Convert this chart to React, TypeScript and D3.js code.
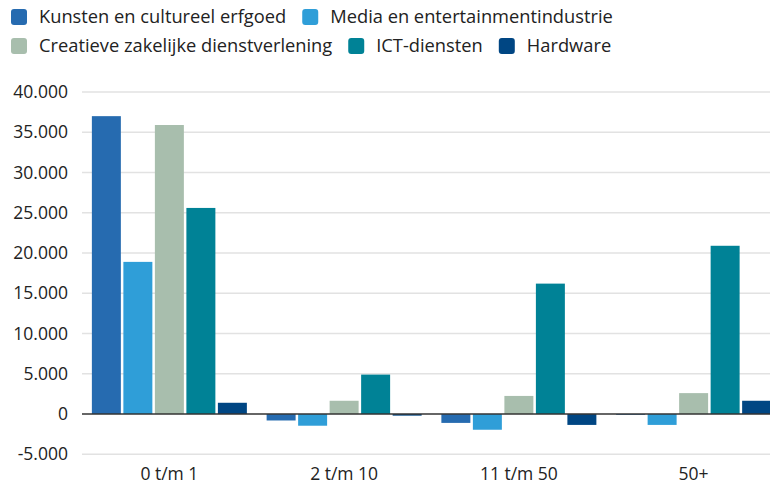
import React, { useEffect, useRef } from "react";
import * as d3 from "d3";

const categories = ["0 t/m 1", "2 t/m 10", "11 t/m 50", "50+"];
const seriesNames = [
  "Kunsten en cultureel erfgoed",
  "Media en entertainmentindustrie",
  "Creatieve zakelijke dienstverlening",
  "ICT-diensten",
  "Hardware",
];
const kunsten = [37000, -800, -1100, -100];
const media = [18900, -1450, -1950, -1350];
const creatief = [35900, 1650, 2250, 2600];
const ict = [25600, 4900, 16200, 20900];
const hardware = [1400, -200, -1350, 1650];
const yTicks = [-5000, 0, 5000, 10000, 15000, 20000, 25000, 30000, 35000, 40000];
const colors = ["#266bb0", "#2f9ed8", "#a8bead", "#008296", "#004683"];

const seriesValues = [kunsten, media, creatief, ict, hardware];

const W = 770;
const H = 485;
const FONT = "'Open Sans', sans-serif";

export default function App() {
  const ref = useRef<SVGSVGElement>(null);

  useEffect(() => {
    const svg = d3.select(ref.current);
    svg.selectAll("*").remove();

    const y = d3.scaleLinear().domain([-5000, 40000]).range([454.3, 92]);
    const x0 = d3
      .scaleBand<string>()
      .domain(categories)
      .range([82, 781])
      .paddingInner(0.113)
      .paddingOuter(0.0565);
    const x1 = d3
      .scaleBand<string>()
      .domain(seriesNames)
      .range([0, x0.bandwidth()])
      .paddingInner(0.08);

    const fmt = (v: number) =>
      d3.format(",")(v).replace(/,/g, ".").replace("−", "-");

    // grid
    const grid = svg.append("g");
    yTicks.forEach((t) => {
      if (t === 0) return;
      grid
        .append("line")
        .attr("x1", 82)
        .attr("x2", W)
        .attr("y1", y(t))
        .attr("y2", y(t))
        .attr("stroke", "#e2e2e2")
        .attr("stroke-width", 1.5);
    });
    yTicks.forEach((t) => {
      grid
        .append("text")
        .attr("x", 68)
        .attr("y", y(t))
        .attr("dy", "0.35em")
        .attr("text-anchor", "end")
        .attr("font-family", FONT)
        .attr("font-size", 17.5)
        .attr("fill", "#222")
        .text(fmt(t));
    });

    // bars
    const bars = svg.append("g");
    categories.forEach((c, ci) => {
      seriesNames.forEach((s, si) => {
        const v = seriesValues[si][ci];
        bars
          .append("rect")
          .attr("x", (x0(c) ?? 0) + (x1(s) ?? 0))
          .attr("width", x1.bandwidth())
          .attr("y", Math.min(y(v), y(0)))
          .attr("height", Math.abs(y(v) - y(0)))
          .attr("fill", colors[si]);
      });
    });

    // zero line
    svg
      .append("line")
      .attr("x1", 82)
      .attr("x2", W)
      .attr("y1", y(0))
      .attr("y2", y(0))
      .attr("stroke", "#333")
      .attr("stroke-width", 1.5);

    // x labels
    categories.forEach((c) => {
      svg
        .append("text")
        .attr("x", (x0(c) ?? 0) + x0.bandwidth() / 2)
        .attr("y", 480)
        .attr("text-anchor", "middle")
        .attr("font-family", FONT)
        .attr("font-size", 17.5)
        .attr("fill", "#222")
        .text(c);
    });

    // legend
    const legend = svg.append("g");
    const rows = [
      [0, 1],
      [2, 3, 4],
    ];
    rows.forEach((row, ri) => {
      let cx = 11;
      const cy = ri === 0 ? 17 : 46;
      row.forEach((si) => {
        legend
          .append("rect")
          .attr("x", cx)
          .attr("y", cy - 8)
          .attr("width", 16)
          .attr("height", 16)
          .attr("rx", 3)
          .attr("fill", colors[si]);
        const t = legend
          .append("text")
          .attr("x", cx + 28)
          .attr("y", cy)
          .attr("dy", "0.35em")
          .attr("font-family", FONT)
          .attr("font-size", 18.3)
          .attr("fill", "#222")
          .text(seriesNames[si]);
        const w = (t.node() as SVGTextElement).getComputedTextLength();
        cx = cx + 28 + w + 16;
      });
    });
  }, []);

  return (
    <svg
      ref={ref}
      width={W}
      height={H}
      style={{ position: "absolute", left: 0, top: 0, background: "#fff" }}
    />
  );
}
